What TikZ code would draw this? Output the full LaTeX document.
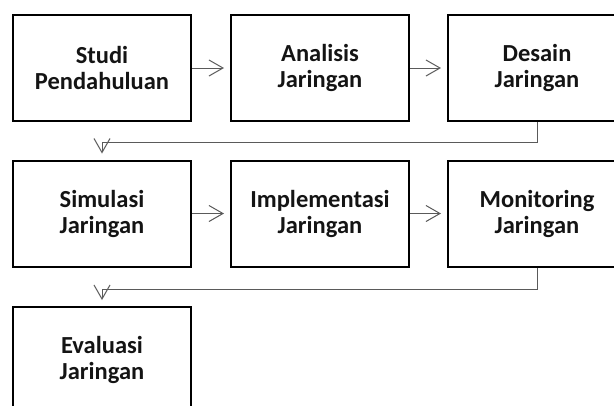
\documentclass[tikz,border=0pt]{standalone}
\usepackage{fontspec}
\setmainfont{Carlito}
\usetikzlibrary{arrows.meta}
\definecolor{linegray}{RGB}{90,90,90}
\definecolor{txt}{RGB}{20,20,20}
\begin{document}
\begin{tikzpicture}[x=1pt,y=1pt,
  box/.style={draw=black,line width=2pt,minimum width=178pt,minimum height=106pt,inner sep=0pt,align=center,text=txt,font=\fontsize{24.5}{26}\selectfont\bfseries},
  conn/.style={draw=linegray,line width=1pt,-{Straight Barb[length=14pt,width=16pt]},shorten >=6pt}]
\useasboundingbox (0,0) rectangle (614,-405);
\clip (0,0) rectangle (614,-405);
\node[box] (a) at (102,-68) {Studi\\Pendahuluan};
\node[box] (b) at (320,-68) {Analisis\\Jaringan};
\node[box] (c) at (537,-68) {Desain\\Jaringan};
\node[box] (d) at (102,-213.5) {Simulasi\\Jaringan};
\node[box] (e) at (320,-213.5) {Implementasi\\Jaringan};
\node[box] (f) at (537,-213.5) {Monitoring\\Jaringan};
\node[box] (g) at (102,-360) {Evaluasi\\Jaringan};
\draw[conn] (a) -- (b);
\draw[conn] (b) -- (c);
\draw[conn] (d) -- (e);
\draw[conn] (e) -- (f);
\draw[conn] (c.south) -- ++(0,-20) -| (d.north);
\draw[conn] (f.south) -- ++(0,-22) -| (g.north);
\end{tikzpicture}
\end{document}
